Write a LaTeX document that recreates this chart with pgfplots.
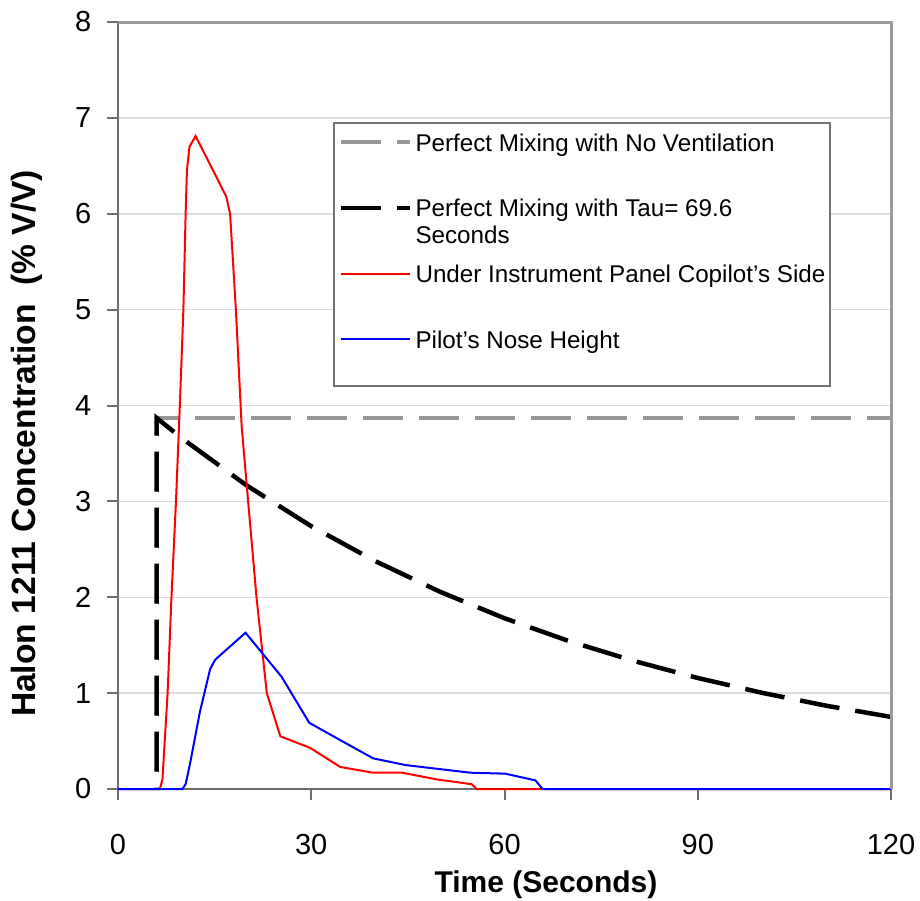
\documentclass[border=0pt]{standalone}
\usepackage{fontspec}
\setmainfont{Liberation Sans}
\usepackage{pgfplots}
\pgfplotsset{compat=1.18}
\definecolor{gdash}{RGB}{150,150,150}
\definecolor{axisgray}{RGB}{110,110,110}
\definecolor{bordergray}{RGB}{155,155,155}
\definecolor{gridgray}{RGB}{220,220,220}
\begin{document}
\begin{tikzpicture}
\path[use as bounding box] (-59pt,-55.5pt) rectangle (401pt,394.5pt);
\begin{axis}[
  at={(0pt,0pt)}, anchor=south west,
  scale only axis, width=386.5pt, height=383.5pt,
  xmin=0, xmax=120, ymin=0, ymax=8,
  xtick={0,30,60,90,120}, ytick={0,1,2,3,4,5,6,7,8},
  clip=false,
  axis lines=left,
  axis line style={-, draw=axisgray, line width=1.2pt},
  tick align=outside, major tick length=5.5pt,
  tick style={draw=axisgray, line width=1pt},
  ymajorgrids, major grid style={draw=gridgray, line width=0.75pt},
  /pgf/number format/assume math mode=true,
  ticklabel style={font=\fontsize{14.5}{16}\selectfont},
  xticklabel style={anchor=north, inner sep=0pt, yshift=-17pt},
  yticklabel style={anchor=east, inner sep=0pt, xshift=-7.7pt},
  xlabel={Time (Seconds)},
  ylabel={Halon 1211 Concentration~~(\% V/V)},
  xlabel style={font=\bfseries\fontsize{15}{17}\selectfont, at={(axis description cs:0.5537,-0.1343)}, anchor=base},
  ylabel style={font=\bfseries\fontsize{16.8}{18}\selectfont, at={(axis description cs:-0.1180,0.4505)}, anchor=center},
  legend style={at={(axis description cs:0.2782,0.8696)}, anchor=north west,
    draw=black!55, line width=1pt, inner xsep=2.5pt, inner ysep=0pt,
    row sep=0pt, /tikz/column sep=1.5pt,
    font=\fontsize{12.1}{13.5}\selectfont,
    nodes={inner sep=0pt, text height=14pt, text depth=18.85pt},
    cells={anchor=base west}},
  legend image code/.code={\draw[dash phase=0pt] (0pt,4.4pt) -- (34.5pt,4.4pt);},
]
\addplot[gdash, line width=2pt, dash pattern=on 20pt off 8pt, dash phase=19.3pt]
  coordinates {(6,0) (6,3.87) (120,3.87)};
\addlegendentry{Perfect Mixing with No Ventilation}
\addplot[black, line width=2.25pt, dash pattern=on 20pt off 8pt, dash phase=19.3pt]
  coordinates {(6,0) (6,3.87) (10,3.654) (20,3.165) (30,2.741) (40,2.375) (50,2.057)
   (60,1.781) (70,1.543) (80,1.337) (90,1.158) (100,1.003) (110,0.868) (120,0.752)};
\addlegendentry{\vtop{\hbox{Perfect Mixing with Tau= 69.6}\hbox{Seconds}}}
\addplot[red, line width=1pt]
  coordinates {(0,0) (6.5,0) (6.9,0.1) (7.7,1) (8.3,2) (9.0,3) (9.6,4) (10.15,5) (10.5,6)
   (10.7,6.45) (11.1,6.7) (12.05,6.81) (14.4,6.5) (16.8,6.18) (17.4,6.0) (18.3,5.0)
   (19.2,3.78) (20.2,3.0) (21.5,2.0) (23.1,1.0) (25.2,0.55) (29.8,0.43) (34.5,0.23)
   (39.6,0.17) (44.1,0.17) (49.5,0.10) (54.9,0.05) (55.7,0) (120,0)};
\addlegendentry{Under Instrument Panel Copilot's Side}
\addplot[blue, line width=1pt]
  coordinates {(0,0) (10,0) (10.5,0.05) (11.2,0.27) (12.7,0.8) (14.3,1.25) (15.1,1.35)
   (19.8,1.63) (25.4,1.17) (29.7,0.69) (34.5,0.51) (39.6,0.32) (44.6,0.25) (54.7,0.17)
   (60.1,0.16) (64.8,0.09) (65.9,0) (120,0)};
\addlegendentry{Pilot's Nose Height}
\draw[bordergray, line width=1.5pt] (rel axis cs:0,1) -- (rel axis cs:1,1) -- (rel axis cs:1,0);
\end{axis}
\end{tikzpicture}
\end{document}
